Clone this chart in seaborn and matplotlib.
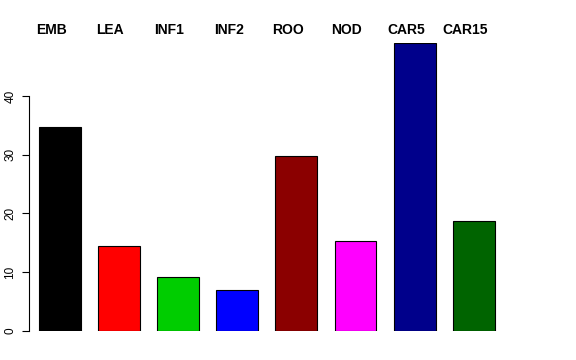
import matplotlib
matplotlib.use("Agg")
import matplotlib.pyplot as plt
import matplotlib.transforms as mtransforms
import seaborn as sns

# Data
categories = ["EMB", "LEA", "INF1", "INF2", "ROO", "NOD", "CAR5", "CAR15"]
values = [34.8, 14.4, 9.2, 6.9, 29.7, 15.4, 49.0, 18.7]
colors = ["#000000", "#FF0000", "#00CD00", "#0000FF",
          "#8B0000", "#FF00FF", "#00008B", "#006400"]
yticks = [0, 10, 20, 30, 40]

sns.set_style("white")
plt.rcParams["font.family"] = ["Liberation Sans", "DejaVu Sans"]
plt.rcParams["text.color"] = "black"
plt.rcParams["ytick.color"] = "black"
plt.rcParams["ytick.labelcolor"] = "black"

fig = plt.figure(figsize=(5.76, 3.6), dpi=100)
ax = fig.add_axes([29 / 576, 29 / 360, (540 - 29) / 576, (331 - 43.1) / 360])

sns.barplot(
    x=categories,
    y=values,
    hue=categories,
    palette=colors,
    legend=False,
    width=0.706,
    edgecolor="black",
    linewidth=0.8,
    saturation=1,
    ax=ax,
)

# x range so bars sit where R put them
pitch = (473.8 - 59.7) / 7
ax.set_xlim(-(59.7 - 29) / pitch, 7 + (540 - 473.8) / pitch)
ax.set_ylim(0, 49)

# R-style axis: only the left axis from 0 to 40
for side in ["top", "right", "bottom"]:
    ax.spines[side].set_visible(False)
ax.spines["left"].set_bounds(0, 40)
ax.spines["left"].set_color("black")
ax.spines["left"].set_linewidth(0.8)
ax.set_yticks(yticks)
ax.set_yticklabels([str(t) for t in yticks], rotation=90, va="center",
                   fontsize=8.5, color="black")
ax.tick_params(axis="y", length=5, width=0.8, pad=4, left=True, color="black")
ax.set_xticks([])
ax.set_xlabel("")
ax.set_ylabel("")

# category names on top
trans = mtransforms.blended_transform_factory(ax.transData, fig.transFigure)
for i, name in enumerate(categories):
    ax.text(i - 0.144, 1 - 30 / 360, name, transform=trans, ha="center",
            va="center", fontsize=10, fontweight="bold", color="black",
            clip_on=False)

fig.savefig("out.png", dpi=100)
